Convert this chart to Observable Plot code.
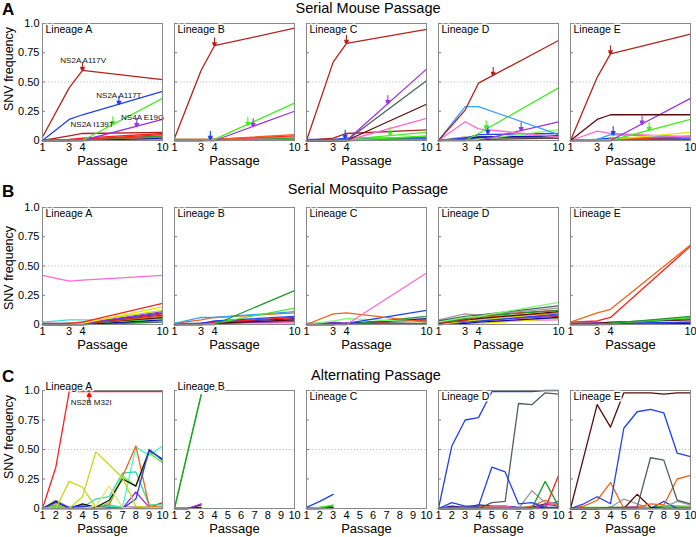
<!DOCTYPE html>
<html>
<head>
<meta charset="utf-8">
<script src="https://cdn.jsdelivr.net/npm/d3@7"></script>
<script src="https://cdn.jsdelivr.net/npm/@observablehq/plot@0.6"></script>
<style>
  body { margin: 0; background: white; }
  #root { position: relative; width: 696px; height: 537px; font-family: "Liberation Sans", Arial, Helvetica, sans-serif; color: #000; overflow: hidden; }
  .abs { position: absolute; white-space: nowrap; line-height: 1; }
  .letter { font-weight: bold; font-size: 17px; }
  .title { font-size: 14.5px; transform: translateX(-50%); }
  .ylab { font-size: 12.5px; transform: translate(-50%, -50%) rotate(-90deg); }
  .row { position: absolute; left: 0; }
</style>
</head>
<body>
<div id="root"></div>
<script>
// ---------- categories / ticks ----------
const lineages = ["A", "B", "C", "D", "E"];
const serialPassages = [1, 3, 4, 10];
const altPassages = [1, 2, 3, 4, 5, 6, 7, 8, 9, 10];
const serialTicks = [1, 3, 4, 10];
const altTicks = [1, 2, 3, 4, 5, 6, 7, 8, 9, 10];
const freqTicks = [0, 0.25, 0.5, 0.75, 1];
const freqTickLabels = ["0", "0.25", "0.50", "0.75", "1.0"];
const rowTitles = ["Serial Mouse Passage", "Serial Mosquito Passage", "Alternating Passage"];
const rowLetters = ["A", "B", "C"];

// colour keys and their colours
const colorKeys = ["dkred", "red", "orange", "blue", "ltblue", "green", "ltgreen", "dkgreen", "purple", "pink", "maroon", "slate", "gray", "yellow", "ygreen", "pale", "aqua", "teal", "cyan", "navy", "black"];
const colorHex  = ["#b3231d", "#ff2020", "#ef6418", "#2040f0", "#36a2ff", "#44ee22", "#7cff6a", "#1e9a2e", "#9a35e0", "#ff6ad0", "#5a0c0c", "#4e6060", "#9a9a9a", "#e4e400", "#c5dc10", "#dde870", "#3dffc0", "#2fd8a8", "#33e0e0", "#1010a0", "#2a1010"];

// ---------- Serial mouse passage (values at passages 1, 3, 4, 10) ----------
const mouseA = [
  ["dkred", 0.03, 0.45, 0.60, 0.52],
  ["blue", 0, 0.18, 0.22, 0.42],
  ["green", 0, 0, 0, 0.36],
  ["purple", 0, 0, 0, 0.18],
  ["dkred", 0, 0.04, 0.06, 0.07],
  ["red", 0, 0.01, 0.02, 0.06],
  ["red", 0, 0, 0.01, 0.05],
  ["dkgreen", 0, 0, 0.01, 0.04],
  ["orange", 0, 0, 0.01, 0.03],
  ["slate", 0, 0, 0.01, 0.03],
  ["navy", 0, 0, 0, 0.02],
  ["pink", 0, 0, 0, 0.01]
];
const mouseB = [
  ["dkred", 0.02, 0.60, 0.81, 0.96],
  ["green", 0, 0, 0.01, 0.32],
  ["purple", 0, 0, 0, 0.25],
  ["orange", 0.01, 0.01, 0.01, 0.05],
  ["red", 0, 0, 0.01, 0.04],
  ["pink", 0, 0, 0.01, 0.03],
  ["dkgreen", 0, 0, 0.01, 0.02],
  ["yellow", 0.01, 0.01, 0.01, 0.02],
  ["ltblue", 0, 0, 0, 0.01],
  ["blue", 0.01, 0.01, 0.01, 0.01]
];
const mouseC = [
  ["dkred", 0, 0.67, 0.83, 0.95],
  ["purple", 0, 0, 0, 0.61],
  ["slate", 0, 0, 0, 0.51],
  ["maroon", 0, 0, 0, 0.31],
  ["pink", 0, 0, 0, 0.19],
  ["dkred", 0, 0.02, 0.06, 0.09],
  ["green", 0, 0, 0.01, 0.07],
  ["green", 0, 0, 0, 0.04],
  ["dkgreen", 0, 0, 0, 0.03],
  ["blue", 0.01, 0.01, 0.02, 0.02],
  ["ltblue", 0, 0, 0.01, 0.01],
  ["navy", 0, 0, 0, 0.01]
];
const mouseD = [
  ["dkred", 0, 0.26, 0.49, 0.855],
  ["ltblue", 0, 0.29, 0.29, 0.05],
  ["green", 0, 0, 0.06, 0.45],
  ["pink", 0, 0.16, 0.10, 0.03],
  ["purple", 0, 0, 0, 0.16],
  ["ltgreen", 0, 0, 0.01, 0.09],
  ["blue", 0, 0.02, 0.05, 0.06],
  ["navy", 0, 0.01, 0.03, 0.04],
  ["slate", 0, 0.02, 0.03, 0.02],
  ["gray", 0, 0.03, 0.02, 0.03],
  ["dkgreen", 0, 0.01, 0.02, 0.04],
  ["maroon", 0, 0.01, 0.01, 0.02]
];
const mouseE = [
  ["dkred", 0, 0.54, 0.74, 0.91],
  ["maroon", 0, 0.18, 0.22, 0.22],
  ["purple", 0, 0, 0, 0.36],
  ["green", 0, 0, 0, 0.18],
  ["yellow", 0, 0, 0.01, 0.07],
  ["pink", 0, 0.08, 0.06, 0.03],
  ["ltblue", 0, 0.01, 0.05, 0.03],
  ["orange", 0, 0, 0.01, 0.04],
  ["red", 0, 0, 0.01, 0.03],
  ["blue", 0, 0.01, 0.02, 0.02],
  ["dkgreen", 0, 0, 0, 0.03],
  ["slate", 0, 0.01, 0.01, 0.01]
];
// arrows: lineage, passage, frequency, colour key
const mouseArrows = [
  ["A", 4, 0.60, "dkred"], ["A", 6.73, 0.31, "blue"], ["A", 6.28, 0.137, "green"], ["A", 8.07, 0.12, "purple"],
  ["B", 4, 0.81, "dkred"], ["B", 3.69, 0.01, "blue"], ["B", 6.5, 0.13, "green"], ["B", 6.9, 0.12, "purple"],
  ["C", 4, 0.83, "dkred"], ["C", 3.9, 0.02, "blue"], ["C", 7.1, 0.315, "purple"], ["C", 7.27, 0.045, "green"],
  ["D", 5.1, 0.557, "dkred"], ["D", 4.58, 0.10, "green"], ["D", 4.7, 0.06, "blue"], ["D", 7.2, 0.085, "purple"],
  ["E", 4, 0.74, "dkred"], ["E", 6.37, 0.14, "purple"], ["E", 6.9, 0.087, "green"], ["E", 4.2, 0.05, "blue"]
];
const mouseNotes = [
  ["A", 4.05, 0.684, "NS2A A117V"],
  ["A", 6.73, 0.385, "NS2A A117T"],
  ["A", 4.72, 0.137, "NS2A I139T"],
  ["A", 8.51, 0.197, "NS4A E19G"]
];

// ---------- Serial mosquito passage (passages 1, 3, 4, 10) ----------
const mosqA = [
  ["pink", 0.42, 0.37, 0.38, 0.42],
  ["red", 0.01, 0.01, 0.02, 0.18],
  ["yellow", 0, 0, 0.01, 0.15],
  ["ygreen", 0, 0.01, 0.02, 0.12],
  ["purple", 0, 0, 0.01, 0.11],
  ["blue", 0, 0, 0.01, 0.10],
  ["red", 0, 0, 0.01, 0.09],
  ["dkred", 0, 0.01, 0.01, 0.08],
  ["orange", 0, 0.01, 0.01, 0.07],
  ["maroon", 0, 0, 0.01, 0.06],
  ["green", 0, 0, 0.01, 0.05],
  ["ltblue", 0.01, 0.01, 0.02, 0.05],
  ["navy", 0, 0, 0, 0.04],
  ["cyan", 0.02, 0.04, 0.04, 0.03],
  ["dkgreen", 0, 0, 0, 0.03],
  ["slate", 0, 0, 0, 0.02]
];
const mosqB = [
  ["dkgreen", 0, 0, 0, 0.29],
  ["green", 0, 0, 0.01, 0.14],
  ["ltblue", 0.01, 0.06, 0.06, 0.11],
  ["orange", 0.01, 0.04, 0.06, 0.10],
  ["blue", 0.01, 0.01, 0.03, 0.07],
  ["red", 0, 0.01, 0.02, 0.06],
  ["navy", 0, 0.01, 0.02, 0.05],
  ["maroon", 0, 0.01, 0.01, 0.04],
  ["purple", 0, 0, 0.01, 0.03],
  ["slate", 0, 0, 0.01, 0.03],
  ["pink", 0, 0, 0.01, 0.02],
  ["yellow", 0, 0, 0, 0.01]
];
const mosqC = [
  ["pink", 0, 0, 0, 0.44],
  ["orange", 0, 0.09, 0.10, 0.02],
  ["blue", 0, 0, 0.01, 0.12],
  ["ltgreen", 0, 0.03, 0.05, 0.02],
  ["dkgreen", 0, 0, 0, 0.07],
  ["navy", 0.01, 0.01, 0.01, 0.05],
  ["red", 0, 0, 0.01, 0.04],
  ["slate", 0, 0, 0.01, 0.03],
  ["purple", 0, 0.02, 0.01, 0.01],
  ["yellow", 0, 0.01, 0.01, 0.01]
];
const mosqD = [
  ["ltgreen", 0.02, 0.06, 0.07, 0.19],
  ["slate", 0.03, 0.07, 0.08, 0.16],
  ["gray", 0.04, 0.09, 0.08, 0.14],
  ["dkgreen", 0.02, 0.05, 0.07, 0.12],
  ["red", 0.02, 0.03, 0.08, 0.12],
  ["maroon", 0.01, 0.04, 0.05, 0.11],
  ["orange", 0.02, 0.06, 0.06, 0.10],
  ["ygreen", 0, 0.03, 0.04, 0.10],
  ["blue", 0.01, 0.02, 0.03, 0.09],
  ["purple", 0, 0.02, 0.03, 0.08],
  ["ltblue", 0.02, 0.04, 0.04, 0.08],
  ["dkred", 0.03, 0.05, 0.04, 0.07],
  ["navy", 0, 0.01, 0.02, 0.06],
  ["yellow", 0, 0.01, 0.01, 0.05],
  ["pink", 0.01, 0.02, 0.03, 0.04]
];
const mosqE = [
  ["orange", 0.02, 0.10, 0.13, 0.68],
  ["red", 0.02, 0.03, 0.06, 0.67],
  ["dkgreen", 0, 0, 0.01, 0.07],
  ["green", 0, 0, 0.01, 0.06],
  ["slate", 0, 0, 0.01, 0.05],
  ["maroon", 0.01, 0.01, 0.02, 0.04],
  ["blue", 0.01, 0.01, 0.01, 0.02],
  ["purple", 0, 0, 0, 0.02],
  ["navy", 0, 0.01, 0.01, 0.01],
  ["pink", 0, 0.02, 0.01, 0.01]
];

// ---------- Alternating passage (passages 1..10) ----------
const altA = [
  ["red", 0, 0.35, 0.99, 0.99, 0.99, 0.99, 0.99, 0.99, 0.99, 0.99],
  ["ygreen", 0, 0, 0.23, 0.18, 0.01, 0, 0, 0, 0, 0],
  ["ygreen", 0, 0, 0, 0.10, 0.48, 0.37, 0.26, 0.02, 0.01, 0.01],
  ["pale", 0, 0, 0, 0, 0.02, 0.19, 0.01, 0, 0, 0],
  ["blue", 0, 0.05, 0.01, 0.02, 0.01, 0.01, 0, 0.08, 0.50, 0.41],
  ["black", 0, 0.06, 0, 0.04, 0.01, 0.07, 0.25, 0.19, 0.49, 0.42],
  ["green", 0, 0.02, 0, 0.03, 0, 0.05, 0.27, 0.19, 0.47, 0.39],
  ["orange", 0, 0.03, 0, 0.01, 0.01, 0.03, 0.27, 0.53, 0.02, 0.01],
  ["teal", 0, 0, 0, 0.01, 0.08, 0.10, 0.30, 0.31, 0.03, 0.03],
  ["aqua", 0, 0, 0, 0, 0.01, 0.02, 0.01, 0.52, 0.45, 0.53],
  ["purple", 0, 0, 0, 0, 0, 0, 0, 0.14, 0.01, 0.01],
  ["gray", 0, 0.07, 0.01, 0.03, 0.01, 0.03, 0.01, 0, 0, 0],
  ["red", 0, 0, 0, 0, 0, 0.02, 0.01, 0.01, 0.01, 0.05],
  ["navy", 0, 0.01, 0, 0, 0, 0, 0.01, 0.01, 0.01, 0.01]
];
const altB = [
  ["dkgreen", 0, 0.48, 0.96],
  ["green", 0, 0.49, 0.97],
  ["purple", 0, 0, 0.04],
  ["maroon", 0, 0, 0.03],
  ["navy", 0, 0, 0.01]
];
const altC = [
  ["blue", 0.01, 0.06, 0.12],
  ["green", 0, 0.01, 0.03],
  ["dkgreen", 0, 0.01, 0.02],
  ["maroon", 0, 0, 0.01],
  ["navy", 0, 0, 0]
];
const altD = [
  ["blue", 0, 0.53, 0.75, 0.77, 0.99, 0.99, 0.99, 0.99, 1.0, 1.0],
  ["blue", 0, 0.05, 0.02, 0.02, 0.35, 0.31, 0.04, 0.05, 0.01, 0.01],
  ["slate", 0, 0, 0, 0, 0.05, 0.06, 0.89, 0.88, 0.98, 0.97],
  ["dkgreen", 0, 0, 0, 0, 0, 0, 0, 0, 0.23, 0.02],
  ["red", 0, 0, 0, 0, 0, 0, 0, 0, 0, 0.28],
  ["gray", 0, 0, 0, 0, 0, 0, 0, 0.15, 0.05, 0.04],
  ["orange", 0, 0.01, 0.01, 0.02, 0.01, 0.01, 0, 0.02, 0.07, 0.02],
  ["purple", 0, 0, 0, 0, 0, 0, 0, 0, 0.03, 0.06],
  ["pink", 0, 0, 0, 0, 0.02, 0.02, 0, 0, 0.03, 0.03],
  ["navy", 0, 0.02, 0.01, 0.03, 0.02, 0.02, 0.01, 0.01, 0.01, 0],
  ["maroon", 0, 0, 0.01, 0.01, 0, 0.01, 0, 0.01, 0.04, 0.02],
  ["green", 0, 0.01, 0.01, 0, 0.01, 0, 0, 0.02, 0.01, 0.01]
];
const altE = [
  ["maroon", 0, 0.44, 0.88, 0.69, 0.98, 0.98, 0.98, 0.97, 0.98, 0.98],
  ["blue", 0, 0.04, 0.10, 0.04, 0.68, 0.82, 0.84, 0.81, 0.47, 0.44],
  ["slate", 0, 0, 0, 0.01, 0.01, 0.01, 0.43, 0.41, 0.07, 0.04],
  ["orange", 0, 0.02, 0.07, 0.22, 0, 0.01, 0.04, 0.03, 0.25, 0.28],
  ["maroon", 0, 0, 0, 0, 0, 0.12, 0.01, 0, 0, 0],
  ["gray", 0, 0, 0, 0.01, 0.08, 0.04, 0, 0.01, 0.06, 0.03],
  ["blue", 0, 0, 0, 0, 0, 0, 0, 0.06, 0, 0],
  ["pink", 0, 0, 0, 0, 0.01, 0.02, 0, 0, 0.01, 0.01],
  ["green", 0, 0.01, 0.01, 0.01, 0.01, 0.01, 0.01, 0.01, 0.02, 0.02],
  ["dkgreen", 0, 0, 0, 0.01, 0, 0, 0.01, 0.02, 0.02, 0.01],
  ["navy", 0, 0, 0, 0.01, 0, 0, 0, 0, 0, 0]
];
const altArrowsUp = [["A", 4.5, 0.975, "red"]];
const altNotes = [["A", 4.65, 0.90, "NS2B M32I"]];
const altLabelsAbove = ["A", "B"];

// ---------- build ----------
const FONT = '"Liberation Sans", Arial, Helvetica, sans-serif';

function tidy(panels, passages) {
  const out = [];
  panels.forEach((series, li) => {
    const lin = lineages[li];
    for (let s = series.length - 1; s >= 0; s--) {
      const [key, ...vals] = series[s];
      vals.forEach((v, i) => out.push({lineage: lin, id: lin + "-" + s, key, passage: passages[i], value: v}));
    }
  });
  return out;
}

function drawRow(cfg) {
  const labels = lineages.map(l => ({lineage: l, text: "Lineage " + l, above: (cfg.above || []).includes(l)}));
  const marks = [
    Plot.ruleY([0.5], {stroke: "#b8b8b8", strokeDasharray: "1.2,2", strokeWidth: 0.9}),
    Plot.ruleY([0.25, 0.5, 0.75], {x1: 1, x2: 1.22, stroke: "#777"}),
    Plot.line(cfg.data, {fx: "lineage", x: "passage", y: "value", z: "id", stroke: "key", strokeWidth: 1.3})
  ];
  if (cfg.arrowsDown) {
    marks.push(
      Plot.vector(cfg.arrowsDown, {fx: d => d[0], x: d => d[1], y: d => d[2], stroke: d => d[3], length: 8, rotate: 180, anchor: "end", strokeWidth: 1.1}),
      Plot.dot(cfg.arrowsDown, {fx: d => d[0], x: d => d[1], y: d => d[2], fill: d => d[3], symbol: "triangle", r: 2, rotate: 180, dy: -2})
    );
  }
  if (cfg.arrowsUp) {
    marks.push(
      Plot.vector(cfg.arrowsUp, {fx: d => d[0], x: d => d[1], y: d => d[2], stroke: d => d[3], length: 8, rotate: 0, anchor: "end", strokeWidth: 1.1}),
      Plot.dot(cfg.arrowsUp, {fx: d => d[0], x: d => d[1], y: d => d[2], fill: d => d[3], symbol: "triangle", r: 2, dy: 2})
    );
  }
  if (cfg.notes) {
    marks.push(Plot.text(cfg.notes, {fx: d => d[0], x: d => d[1], y: d => d[2], text: d => d[3], fontSize: 8, fill: "#111"}));
  }
  marks.push(
    Plot.frame({stroke: "#888"}),
    Plot.text(labels.filter(d => !d.above), {fx: "lineage", text: "text", frameAnchor: "top-left", dx: 3, dy: 2, lineAnchor: "top", fontSize: 10.5, fill: "#000", stroke: "white", strokeWidth: 3}),
    Plot.text(labels.filter(d => d.above), {fx: "lineage", text: "text", frameAnchor: "top-left", dx: 3, dy: -1, lineAnchor: "bottom", fontSize: 10.5, fill: "#000", stroke: "white", strokeWidth: 3}),
    Plot.text(["Passage"], {frameAnchor: "bottom", lineAnchor: "middle", textAnchor: "middle", dy: cfg.labelDy, fontSize: 13, fill: "#000"})
  );
  const svg = Plot.plot({
    width: 696,
    height: cfg.height,
    marginLeft: 42, marginRight: 5, marginTop: 8, marginBottom: cfg.marginBottom,
    style: {fontFamily: FONT, fontSize: "11px", background: "transparent", overflow: "visible", color: "#000"},
    fx: {domain: lineages, paddingInner: 0.09, paddingOuter: 0, axis: null, label: null},
    x: {domain: [1, 10], ticks: cfg.ticks, tickFormat: d => String(d), tickSize: 0, tickPadding: 3, label: null},
    y: {domain: [0, 1], ticks: freqTicks, tickFormat: d => freqTickLabels[freqTicks.indexOf(d)], tickSize: 0, tickPadding: 3, label: null},
    color: {domain: colorKeys, range: colorHex},
    marks
  });
  svg.classList.add("row");
  svg.style.top = cfg.top + "px";
  return svg;
}

const root = document.getElementById("root");

root.append(drawRow({
  data: tidy([mouseA, mouseB, mouseC, mouseD, mouseE], serialPassages),
  arrowsDown: mouseArrows, notes: mouseNotes, ticks: serialTicks,
  top: 15, height: 160, marginBottom: 35, labelDy: 20
}));
root.append(drawRow({
  data: tidy([mosqA, mosqB, mosqC, mosqD, mosqE], serialPassages),
  ticks: serialTicks, top: 199, height: 160, marginBottom: 35, labelDy: 20
}));
root.append(drawRow({
  data: tidy([altA, altB, altC, altD, altE], altPassages),
  arrowsUp: altArrowsUp, notes: altNotes, ticks: altTicks, above: altLabelsAbove,
  top: 382, height: 155, marginBottom: 29, labelDy: 20.5
}));

// HTML text: panel letters, row titles, y labels
const letterTops = [1, 183, 368];
const titleTops = [1, 182, 368];
const titleCenters = [368, 368, 376];
const ylabCenters = [69, 268, 437];
rowLetters.forEach((L, i) => {
  const d = document.createElement("div");
  d.className = "abs letter"; d.textContent = L;
  d.style.left = "2px"; d.style.top = letterTops[i] + "px";
  root.append(d);
  const t = document.createElement("div");
  t.className = "abs title"; t.textContent = rowTitles[i];
  t.style.left = titleCenters[i] + "px"; t.style.top = titleTops[i] + "px";
  root.append(t);
  const y = document.createElement("div");
  y.className = "abs ylab"; y.textContent = "SNV frequency";
  y.style.left = "9px"; y.style.top = ylabCenters[i] + "px";
  root.append(y);
});
</script>
</body>
</html>
